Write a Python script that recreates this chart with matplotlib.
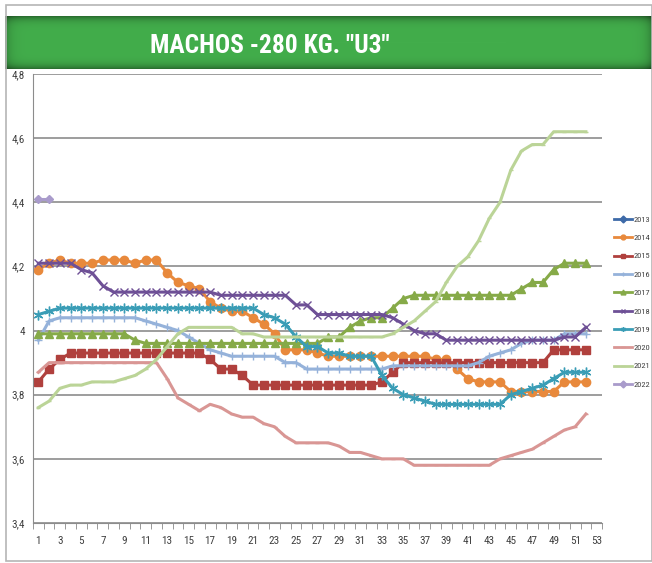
import numpy as np
import matplotlib
matplotlib.use("Agg")
import matplotlib.pyplot as plt
from matplotlib.patches import Rectangle
from matplotlib import font_manager

nan = np.nan
weeks = list(range(1, 53))

y2013 = [nan] * 52
y2014 = [4.19, 4.21, 4.22, 4.21, 4.21, 4.21, 4.22, 4.22, 4.22, 4.21, 4.22, 4.22, 4.18,
         4.15, 4.14, 4.13, 4.09, 4.07, 4.06, 4.06, 4.04, 4.02, 3.99, 3.94, 3.94, 3.94,
         3.93, 3.92, 3.92, 3.92, 3.92, 3.92, 3.92, 3.92, 3.92, 3.92, 3.92, 3.91, 3.91,
         3.88, 3.85, 3.84, 3.84, 3.84, 3.81, 3.81, 3.81, 3.81, 3.81, 3.84, 3.84, 3.84]
y2015 = [3.84, 3.88, 3.91, 3.93, 3.93, 3.93, 3.93, 3.93, 3.93, 3.93, 3.93, 3.93, 3.93,
         3.93, 3.93, 3.93, 3.91, 3.88, 3.88, 3.86, 3.83, 3.83, 3.83, 3.83, 3.83, 3.83,
         3.83, 3.83, 3.83, 3.83, 3.83, 3.83, 3.84, 3.87, 3.90, 3.90, 3.90, 3.90, 3.90,
         3.90, 3.90, 3.90, 3.90, 3.90, 3.90, 3.90, 3.90, 3.90, 3.94, 3.94, 3.94, 3.94]
y2016 = [3.97, 4.03, 4.04, 4.04, 4.04, 4.04, 4.04, 4.04, 4.04, 4.04, 4.03, 4.02, 4.01,
         4.00, 3.98, 3.96, 3.94, 3.93, 3.92, 3.92, 3.92, 3.92, 3.92, 3.90, 3.90, 3.88,
         3.88, 3.88, 3.88, 3.88, 3.88, 3.88, 3.88, 3.89, 3.89, 3.89, 3.89, 3.89, 3.89,
         3.89, 3.89, 3.90, 3.92, 3.93, 3.94, 3.96, 3.97, 3.97, 3.97, 3.99, 3.99, 3.99]
y2017 = [3.99, 3.99, 3.99, 3.99, 3.99, 3.99, 3.99, 3.99, 3.99, 3.97, 3.96, 3.96, 3.96,
         3.96, 3.96, 3.96, 3.96, 3.96, 3.96, 3.96, 3.96, 3.96, 3.96, 3.96, 3.96, 3.96,
         3.96, 3.98, 3.98, 4.01, 4.03, 4.04, 4.04, 4.07, 4.10, 4.11, 4.11, 4.11, 4.11,
         4.11, 4.11, 4.11, 4.11, 4.11, 4.11, 4.13, 4.15, 4.15, 4.19, 4.21, 4.21, 4.21]
y2018 = [4.21, 4.21, 4.21, 4.21, 4.19, 4.18, 4.14, 4.12, 4.12, 4.12, 4.12, 4.12, 4.12,
         4.12, 4.12, 4.12, 4.12, 4.11, 4.11, 4.11, 4.11, 4.11, 4.11, 4.11, 4.08, 4.08,
         4.05, 4.05, 4.05, 4.05, 4.05, 4.05, 4.05, 4.04, 4.02, 4.00, 3.99, 3.99, 3.97,
         3.97, 3.97, 3.97, 3.97, 3.97, 3.97, 3.97, 3.97, 3.97, 3.97, 3.98, 3.98, 4.01]
y2019 = [4.05, 4.06, 4.07, 4.07, 4.07, 4.07, 4.07, 4.07, 4.07, 4.07, 4.07, 4.07, 4.07,
         4.07, 4.07, 4.07, 4.07, 4.07, 4.07, 4.07, 4.07, 4.05, 4.04, 4.02, 3.98, 3.95,
         3.95, 3.93, 3.93, 3.92, 3.92, 3.92, 3.86, 3.82, 3.80, 3.79, 3.78, 3.77, 3.77,
         3.77, 3.77, 3.77, 3.77, 3.77, 3.80, 3.81, 3.82, 3.83, 3.85, 3.87, 3.87, 3.87]
y2020 = [3.87, 3.90, 3.90, 3.90, 3.90, 3.90, 3.90, 3.90, 3.90, 3.90, 3.90, 3.90, 3.85,
         3.79, 3.77, 3.75, 3.77, 3.76, 3.74, 3.73, 3.73, 3.71, 3.70, 3.67, 3.65, 3.65,
         3.65, 3.65, 3.64, 3.62, 3.62, 3.61, 3.60, 3.60, 3.60, 3.58, 3.58, 3.58, 3.58,
         3.58, 3.58, 3.58, 3.58, 3.60, 3.61, 3.62, 3.63, 3.65, 3.67, 3.69, 3.70, 3.74]
y2021 = [3.76, 3.78, 3.82, 3.83, 3.83, 3.84, 3.84, 3.84, 3.85, 3.86, 3.88, 3.91, 3.95,
         3.99, 4.01, 4.01, 4.01, 4.01, 4.01, 3.99, 3.99, 3.98, 3.98, 3.98, 3.98, 3.98,
         3.98, 3.98, 3.98, 3.98, 3.98, 3.98, 3.98, 3.99, 4.01, 4.03, 4.06, 4.09, 4.15,
         4.20, 4.23, 4.28, 4.35, 4.40, 4.50, 4.56, 4.58, 4.58, 4.62, 4.62, 4.62, 4.62]
y2022 = [4.41, 4.41] + [nan] * 50

y_ticks = [3.4, 3.6, 3.8, 4.0, 4.2, 4.4, 4.6, 4.8]
y_tick_labels = ["3,4", "3,6", "3,8", "4", "4,2", "4,4", "4,6", "4,8"]
x_tick_labels = [str(w) for w in range(1, 54, 2)]

# label, values, colour, marker, marker size
series = [
    ("2013", y2013, "#3D6AA8", "D", 4),
    ("2014", y2014, "#E8893C", "o", 6),
    ("2015", y2015, "#B0403D", "s", 5.5),
    ("2016", y2016, "#95B2DA", "+", 6),
    ("2017", y2017, "#86AA48", "^", 6),
    ("2018", y2018, "#6E5096", "x", 5.5),
    ("2019", y2019, "#3A9DB6", (6, 2, 0), 7),
    ("2020", y2020, "#D99694", "_", 3),
    ("2021", y2021, "#BBD497", "_", 3),
    ("2022", y2022, "#A99BCB", "D", 4),
]

# pick a narrow family if there is one
installed = {f.name for f in font_manager.fontManager.ttflist}
narrow = [n for n in ["Liberation Sans Narrow", "DejaVu Sans Condensed", "Roboto Condensed",
                      "Open Sans Condensed", "Noto Sans Condensed"] if n in installed]
tick_font = narrow[:1] + ["DejaVu Sans"]

W, H = 652, 563
fig = plt.figure(figsize=(W / 100, H / 100), dpi=100, facecolor="white")

# outer frame
fig.patches.append(Rectangle((6 / W, 1 - 561 / H), (W - 6) / W, 556 / H,
                             transform=fig.transFigure, fill=False,
                             edgecolor="#b5b5b5", linewidth=1.2))

# green title bar with darker edges
bar = fig.add_axes([5 / W, 1 - 69 / H, 647 / W, 53 / H])
vy = np.linspace(-1, 1, 53)
vx = np.linspace(-1, 1, 647)
shade = 1 - 0.35 * np.abs(vy)[:, None] ** 6 - 0.25 * np.abs(vx)[None, :] ** 60
base = np.array([0x42, 0xAD, 0x4B]) / 255
img = shade[:, :, None] * base[None, None, :]
bar.imshow(img, aspect="auto", extent=[0, 1, 0, 1])
bar.set_xlim(0, 1)
bar.set_ylim(0, 1)
bar.axis("off")
title = fig.text(270 / W, 1 - 46 / H, 'MACHOS -280 KG. "U3"', color="white",
                 fontsize=22, fontweight="bold", ha="center", va="center",
                 family=tick_font)
# fit the title to the width seen in the reference (~240 px)
r = fig.canvas.get_renderer()
w = title.get_window_extent(r).width
title.set_fontsize(min(30, 22 * 240 / w))

ax = fig.add_axes([33 / W, 1 - 523 / H, 569 / W, 449 / H])
for label, vals, col, mk, ms in series:
    ax.plot(weeks, vals, color=col, linewidth=2.2, marker=mk, markersize=ms,
            markeredgewidth=1.0, label=label, solid_joinstyle="round")

ax.set_xlim(0.5, 53.5)
ax.set_ylim(3.4, 4.8)
ax.set_yticks(y_ticks)
ax.set_yticklabels(y_tick_labels, family=tick_font, fontsize=8, color="#404040")
ax.set_xticks(range(1, 54, 2))
ax.set_xticklabels(x_tick_labels, family=tick_font, fontsize=8, color="#404040")
ax.set_xticks(np.arange(0.5, 54, 1), minor=True)
ax.tick_params(axis="y", length=0, pad=6)
ax.tick_params(axis="x", which="major", length=0, pad=9)
ax.tick_params(axis="x", which="minor", length=4, color="#888888", direction="out")
ax.grid(axis="y", color="#8c8c8c", linewidth=1.2)
ax.set_axisbelow(True)
for s in ("top", "right"):
    ax.spines[s].set_visible(False)
ax.spines["left"].set_color("#8c8c8c")
ax.spines["bottom"].set_color("#8c8c8c")

leg = fig.legend(loc="upper left", bbox_to_anchor=(614 / W, 1 - 216 / H),
                 frameon=False, handlelength=2.2, handletextpad=0.15,
                 labelspacing=1.38, borderpad=0, borderaxespad=0,
                 prop={"family": tick_font, "size": 6})
for t in leg.get_texts():
    t.set_color("#404040")
for h in leg.legend_handles:
    h.set_markersize(3.5)
    h.set_linewidth(2)

fig.savefig("out.png", dpi=100, facecolor="white")
